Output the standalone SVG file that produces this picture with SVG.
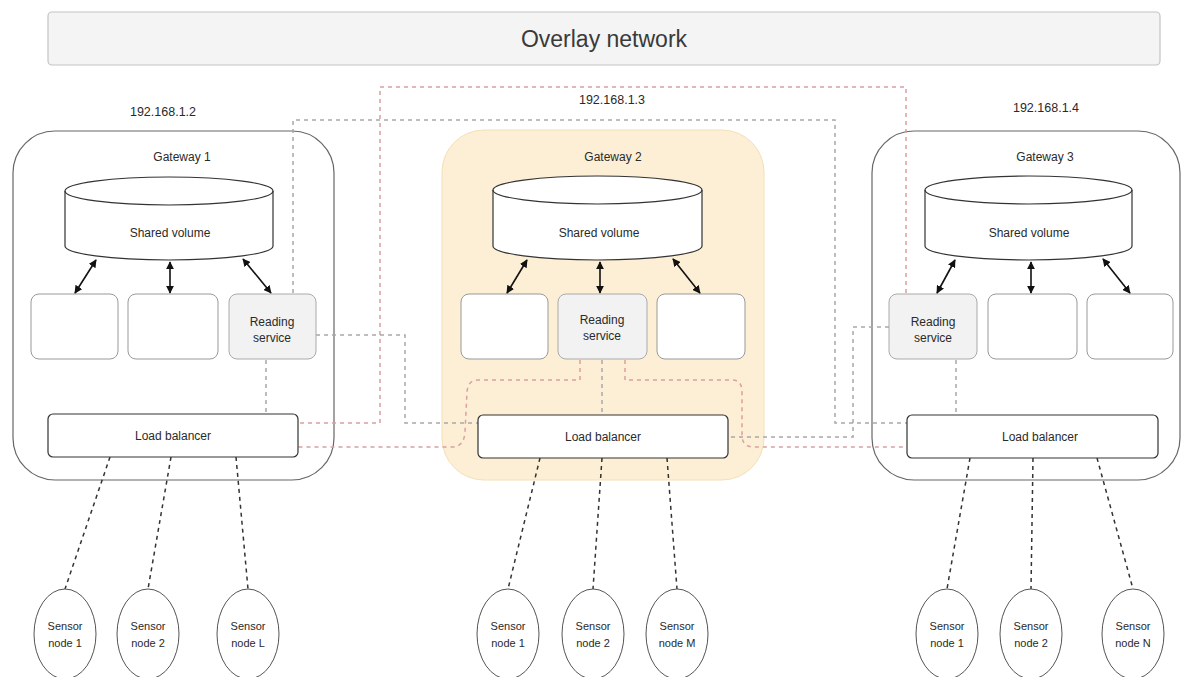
<svg xmlns="http://www.w3.org/2000/svg" width="1187" height="677" viewBox="0 0 1187 677">
<style>
text{font-family:"Liberation Sans",Arial,sans-serif;fill:#2a2a2a;text-anchor:middle;font-size:12px}
.ip{font-size:12.5px}
.gw{fill:none;stroke:#666;stroke-width:1.2}
.box{fill:#fff;stroke:#999;stroke-width:1}
.rs{fill:#f2f2f2;stroke:#aaa;stroke-width:1}
.cyl{fill:#fff;stroke:#333;stroke-width:1.2}
.cyt{fill:none;stroke:#333;stroke-width:1.2}
.lb{fill:#fff;stroke:#333;stroke-width:1.2}
.sn{fill:#fff;stroke:#555;stroke-width:1}
.sl{fill:none;stroke:#333;stroke-width:1.5;stroke-dasharray:4 4}
.ar{fill:none;stroke:#111;stroke-width:1.6;marker-start:url(#ah);marker-end:url(#ah)}
.gr{fill:none;stroke:#a8a8a8;stroke-width:1.5;stroke-dasharray:4 4}
.rd{fill:none;stroke:#dca0a0;stroke-width:1.5;stroke-dasharray:4 4}
.sm{font-size:11px}
</style>
<defs>
<marker id="ah" viewBox="0 0 10 10" refX="9" refY="5" markerWidth="5" markerHeight="5" orient="auto-start-reverse" markerUnits="strokeWidth">
<path d="M0,0 L10,5 L0,10 Z" fill="#111"/>
</marker>
</defs>
<rect width="1187" height="677" fill="#fff"/>

<g id="overlay">
<rect x="48" y="12" width="1112" height="53" rx="4" fill="#f4f4f4" stroke="#c4c4c4" stroke-width="1.2"/>
<text x="604" y="47" style="font-size:23px;fill:#3a3a3a">Overlay network</text>
</g>

<g id="gateway1">
<text class="ip" x="163" y="116">192.168.1.2</text>
<rect class="gw" x="13" y="131" width="321" height="349" rx="42"/>
<text x="182" y="161">Gateway 1</text>
</g>
<g id="gateway2">
<text class="ip" x="612" y="104">192.168.1.3</text>
<rect x="442" y="130" width="322" height="350" rx="42" fill="#fcefd5" stroke="#f3e0b8" stroke-width="1"/>
<text x="613" y="161">Gateway 2</text>
</g>
<g id="gateway3">
<text class="ip" x="1046" y="112">192.168.1.4</text>
<rect class="gw" x="872" y="131" width="308" height="349" rx="42"/>
<text x="1045" y="161">Gateway 3</text>
</g>

<g id="volume1">
<path class="cyl" d="M65,191 A104,14 0 0 1 273,191 L273,246 A104,14 0 0 1 65,246 Z"/>
<path class="cyt" d="M65,191 A104,14 0 0 0 273,191"/>
<text x="170" y="237">Shared volume</text>
</g>
<g id="volume2">
<path class="cyl" d="M493,190 A104.5,14 0 0 1 702,190 L702,246 A104.5,14 0 0 1 493,246 Z"/>
<path class="cyt" d="M493,190 A104.5,14 0 0 0 702,190"/>
<text x="599" y="237">Shared volume</text>
</g>
<g id="volume3">
<path class="cyl" d="M925,190 A103.5,14 0 0 1 1132,190 L1132,246 A103.5,14 0 0 1 925,246 Z"/>
<path class="cyt" d="M925,190 A103.5,14 0 0 0 1132,190"/>
<text x="1029" y="237">Shared volume</text>
</g>

<g id="g1-box1"><rect class="box" x="31" y="294" width="87" height="65" rx="8"/></g>
<g id="g1-box2"><rect class="box" x="128" y="294" width="90" height="65" rx="8"/></g>
<g id="g1-reading"><rect class="rs" x="229" y="294" width="87" height="65" rx="8"/><text x="272" y="326">Reading</text><text x="272" y="342">service</text></g>

<g id="g2-box1"><rect class="box" x="461" y="294" width="87" height="65" rx="8"/></g>
<g id="g2-reading"><rect class="rs" x="558" y="294" width="89" height="65" rx="8"/><text x="602" y="324">Reading</text><text x="602" y="340">service</text></g>
<g id="g2-box3"><rect class="box" x="657" y="294" width="88" height="65" rx="8"/></g>

<g id="g3-reading"><rect class="rs" x="889" y="294" width="88" height="65" rx="8"/><text x="933" y="326">Reading</text><text x="933" y="342">service</text></g>
<g id="g3-box2"><rect class="box" x="988" y="294" width="89" height="65" rx="8"/></g>
<g id="g3-box3"><rect class="box" x="1087" y="294" width="86" height="65" rx="8"/></g>

<g id="connectors">
<line class="ar" x1="96" y1="260" x2="75" y2="293"/>
<line class="ar" x1="170" y1="262" x2="170" y2="293"/>
<line class="ar" x1="243" y1="259" x2="271" y2="293"/>
<line class="ar" x1="527" y1="260" x2="507" y2="293"/>
<line class="ar" x1="600" y1="262" x2="600" y2="293"/>
<line class="ar" x1="673" y1="259" x2="700" y2="293"/>
<line class="ar" x1="955" y1="260" x2="937" y2="293"/>
<line class="ar" x1="1031" y1="262" x2="1031" y2="293"/>
<line class="ar" x1="1103" y1="259" x2="1130" y2="293"/>

<path class="rd" d="M906,293 V87 H380 V423 H298"/>
<path class="gr" d="M293,293 V120 H835 V423 H907"/>
<path class="gr" d="M316,335 H405 V423 H478"/>
<path class="gr" d="M889,327 H853 V437 H728"/>
<path class="rd" d="M580,360 V380 H478 Q468,380 467,392 L465,432 Q464,447 452,447 H298"/>
<path class="rd" d="M625,360 V380 H732 Q742,380 742,392 V435 Q742,447 754,447 H907"/>
<path class="gr" d="M266,360 V414"/>
<path class="gr" d="M602,360 V415"/>
<path class="gr" d="M956,360 V415"/>

<path class="sl" d="M110,457 L65,589"/>
<path class="sl" d="M171,457 L148,589"/>
<path class="sl" d="M236,457 L248,589"/>
<path class="sl" d="M540,458 L508,589"/>
<path class="sl" d="M602,458 L593,589"/>
<path class="sl" d="M667,458 L677,589"/>
<path class="sl" d="M970,458 L947,589"/>
<path class="sl" d="M1033,458 L1031,589"/>
<path class="sl" d="M1097,458 L1133,589"/>
</g>

<g id="lb1"><rect class="lb" x="48" y="414" width="250" height="43" rx="5"/><text x="173" y="440">Load balancer</text></g>
<g id="lb2"><rect class="lb" x="478" y="415" width="250" height="43" rx="5"/><text x="603" y="441">Load balancer</text></g>
<g id="lb3"><rect class="lb" x="907" y="415" width="251" height="43" rx="5"/><text x="1040" y="441">Load balancer</text></g>

<g id="g1-sensor1"><ellipse class="sn" cx="65" cy="634" rx="31" ry="45"/><text class="sm" x="65" y="630">Sensor</text><text class="sm" x="65" y="647">node 1</text></g>
<g id="g1-sensor2"><ellipse class="sn" cx="148" cy="634" rx="31" ry="45"/><text class="sm" x="148" y="630">Sensor</text><text class="sm" x="148" y="647">node 2</text></g>
<g id="g1-sensorL"><ellipse class="sn" cx="248" cy="634" rx="31" ry="45"/><text class="sm" x="248" y="630">Sensor</text><text class="sm" x="248" y="647">node L</text></g>
<g id="g2-sensor1"><ellipse class="sn" cx="508" cy="634" rx="31" ry="45"/><text class="sm" x="508" y="630">Sensor</text><text class="sm" x="508" y="647">node 1</text></g>
<g id="g2-sensor2"><ellipse class="sn" cx="593" cy="634" rx="31" ry="45"/><text class="sm" x="593" y="630">Sensor</text><text class="sm" x="593" y="647">node 2</text></g>
<g id="g2-sensorM"><ellipse class="sn" cx="677" cy="634" rx="31" ry="45"/><text class="sm" x="677" y="630">Sensor</text><text class="sm" x="677" y="647">node M</text></g>
<g id="g3-sensor1"><ellipse class="sn" cx="947" cy="634" rx="31" ry="45"/><text class="sm" x="947" y="630">Sensor</text><text class="sm" x="947" y="647">node 1</text></g>
<g id="g3-sensor2"><ellipse class="sn" cx="1031" cy="634" rx="31" ry="45"/><text class="sm" x="1031" y="630">Sensor</text><text class="sm" x="1031" y="647">node 2</text></g>
<g id="g3-sensorN"><ellipse class="sn" cx="1133" cy="634" rx="31" ry="45"/><text class="sm" x="1133" y="630">Sensor</text><text class="sm" x="1133" y="647">node N</text></g>
</svg>
